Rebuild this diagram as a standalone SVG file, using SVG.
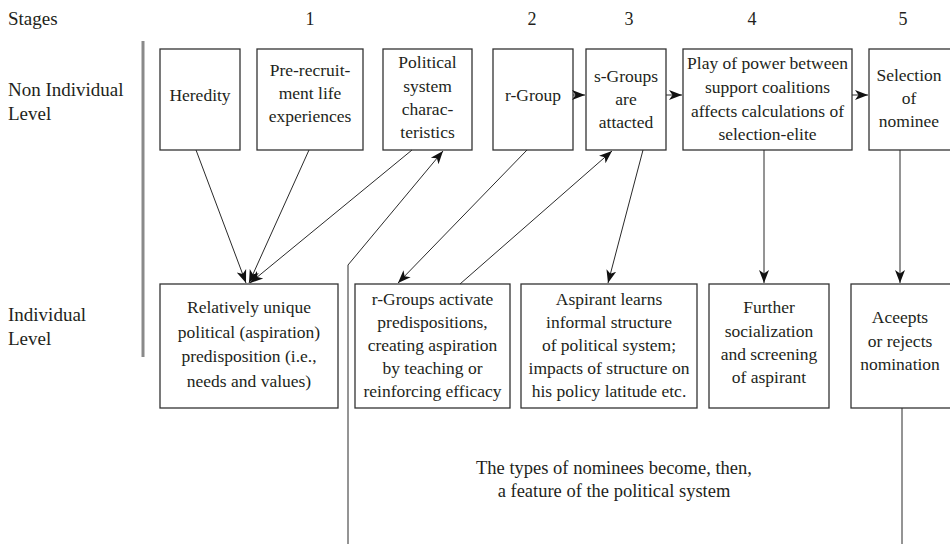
<svg xmlns="http://www.w3.org/2000/svg" width="950" height="544" viewBox="0 0 950 544" font-family="'Liberation Serif', 'DejaVu Serif', serif">
<style>
text{font-family:"Liberation Serif","DejaVu Serif","Noto Serif",serif;fill:#231f20}
.b{font-size:17.5px;text-anchor:middle}
.l{font-size:19px}
.s{font-size:18px;text-anchor:middle}
.n{font-size:18.5px;text-anchor:middle}
.bx{fill:#fff;stroke:#333;stroke-width:1.3}
.c line,.c polyline{stroke:#2a2a2a;stroke-width:1;fill:none}
.a{marker-end:url(#ah)}
</style>
<defs>
<marker id="ah" markerUnits="userSpaceOnUse" markerWidth="15" markerHeight="12" refX="13" refY="5" orient="auto" viewBox="0 0 15 10">
<path d="M0,0 L13,5 L0,10 L3.5,5 Z" fill="#111"/>
</marker>
</defs>
<rect width="950" height="544" fill="#fff"/>
<g id="labels">
<text class="l" x="8" y="25">Stages</text>
<text class="s" x="310" y="25">1</text>
<text class="s" x="532" y="25">2</text>
<text class="s" x="629" y="25">3</text>
<text class="s" x="752" y="25">4</text>
<text class="s" x="903" y="25">5</text>
<text class="l" x="8" y="96">Non Individual</text>
<text class="l" x="8" y="120">Level</text>
<text class="l" x="8" y="321">Individual</text>
<text class="l" x="8" y="345">Level</text>
<line x1="143" y1="41" x2="143" y2="357" stroke="#8a8a8a" stroke-width="3"/>
</g>
<g id="heredity"><rect class="bx" x="160" y="49" width="80" height="101"/><text class="b" x="200" y="101">Heredity</text></g>
<g id="prerecruit"><rect class="bx" x="257" y="49" width="106" height="101"/><text class="b" x="310"><tspan x="310" y="76">Pre-recruit-</tspan><tspan x="310" y="99">ment life</tspan><tspan x="310" y="122">experiences</tspan></text></g>
<g id="political"><rect class="bx" x="383" y="49" width="89" height="101"/><text class="b" x="427.5"><tspan x="427.5" y="68">Political</tspan><tspan x="427.5" y="92">system</tspan><tspan x="427.5" y="115">charac-</tspan><tspan x="427.5" y="138">teristics</tspan></text></g>
<g id="rgroup"><rect class="bx" x="493" y="49" width="80" height="101"/><text class="b" x="533" y="101">r-Group</text></g>
<g id="sgroups"><rect class="bx" x="586" y="49" width="80" height="101"/><text class="b" x="626"><tspan x="626" y="82">s-Groups</tspan><tspan x="626" y="105">are</tspan><tspan x="626" y="128">attacted</tspan></text></g>
<g id="play"><rect class="bx" x="683" y="49" width="169" height="101"/><text class="b" x="767.5"><tspan x="767.5" y="69">Play of power between</tspan><tspan x="767.5" y="93">support coalitions</tspan><tspan x="767.5" y="117">affects calculations of</tspan><tspan x="767.5" y="140">selection-elite</tspan></text></g>
<g id="selection"><rect class="bx" x="869" y="49" width="90" height="101"/><text class="b" x="909"><tspan x="909" y="81">Selection</tspan><tspan x="909" y="104">of</tspan><tspan x="909" y="127">nominee</tspan></text></g>
<g id="unique"><rect class="bx" x="160" y="284" width="178" height="124"/><text class="b" x="249"><tspan x="249" y="313">Relatively unique</tspan><tspan x="249" y="337.5">political (aspiration)</tspan><tspan x="249" y="362">predisposition (i.e.,</tspan><tspan x="249" y="386.5">needs and values)</tspan></text></g>
<g id="activate"><rect class="bx" x="355" y="284" width="155" height="124"/><text class="b" x="432.5"><tspan x="432.5" y="305">r-Groups activate</tspan><tspan x="432.5" y="328">predispositions,</tspan><tspan x="432.5" y="351">creating aspiration</tspan><tspan x="432.5" y="374">by teaching or</tspan><tspan x="432.5" y="397">reinforcing efficacy</tspan></text></g>
<g id="aspirant"><rect class="bx" x="521" y="284" width="176" height="124"/><text class="b" x="609"><tspan x="609" y="305">Aspirant learns</tspan><tspan x="609" y="328">informal structure</tspan><tspan x="609" y="351">of political system;</tspan><tspan x="609" y="374">impacts of structure on</tspan><tspan x="609" y="397">his policy latitude etc.</tspan></text></g>
<g id="further"><rect class="bx" x="709" y="284" width="120" height="124"/><text class="b" x="769"><tspan x="769" y="313">Further</tspan><tspan x="769" y="337">socialization</tspan><tspan x="769" y="360">and screening</tspan><tspan x="769" y="383">of aspirant</tspan></text></g>
<g id="accepts"><rect class="bx" x="851" y="284" width="108" height="124"/><text class="b" x="900"><tspan x="900" y="323">Aceepts</tspan><tspan x="900" y="347">or rejects</tspan><tspan x="900" y="370">nomination</tspan></text></g>
<g id="note"><text class="n" x="614"><tspan x="614" y="474">The types of nominees become, then,</tspan><tspan x="614" y="497">a feature of the political system</tspan></text></g>
<g id="connectors" class="c">
<line class="a" x1="196" y1="150" x2="246" y2="283"/>
<line class="a" x1="309" y1="150" x2="249" y2="283"/>
<line class="a" x1="412" y1="150" x2="250" y2="283"/>
<polyline class="a" points="348,544 348,265 443,151"/>
<line class="a" x1="527" y1="150" x2="398" y2="283"/>
<line class="a" x1="460" y1="284" x2="612" y2="151"/>
<line class="a" x1="643" y1="150" x2="608" y2="283"/>
<line class="a" x1="764" y1="150" x2="764" y2="283"/>
<line class="a" x1="900" y1="150" x2="900" y2="283"/>
<line x1="902" y1="408" x2="902" y2="544"/>
<line class="a" x1="573" y1="95" x2="585" y2="95"/>
<line class="a" x1="666" y1="95" x2="682" y2="95"/>
<line class="a" x1="852" y1="95" x2="868" y2="95"/>
</g>
</svg>
